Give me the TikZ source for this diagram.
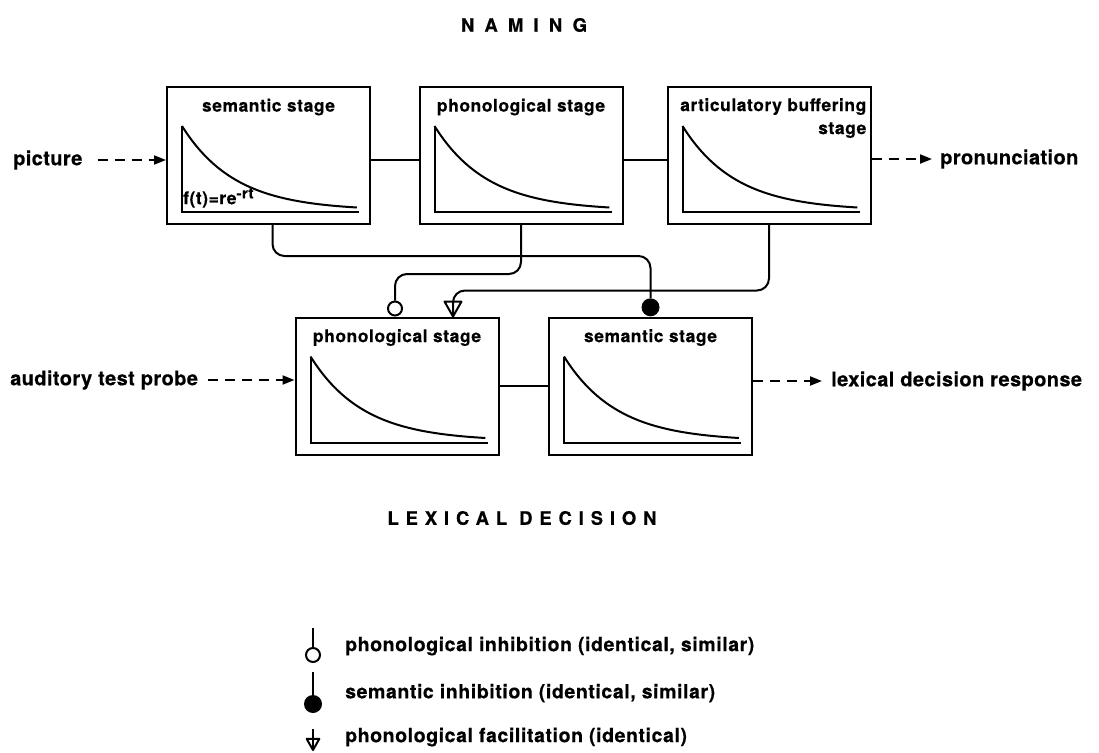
\documentclass[tikz,border=0pt]{standalone}
\usepackage{fontspec}
\setmainfont{TeX Gyre Heros}
\usetikzlibrary{arrows.meta,calc}

\tikzset{
 facil/.pic={\draw[line width=2pt,line join=round] (0,0) -- (-8.5,-15) -- (8.5,-15) -- cycle;}
}

\begin{document}
\begin{tikzpicture}[x=1pt,y=-1pt,
 stage/.style={draw,line width=2pt,minimum width=203pt,minimum height=137pt,inner sep=0pt},
 stagename/.style={font=\bfseries\fontsize{17.5}{23}\selectfont\addfontfeature{LetterSpace=3,FakeBold=0.4},inner sep=0pt},
 io/.style={font=\bfseries\fontsize{20}{24}\selectfont\addfontfeature{LetterSpace=2,FakeBold=0.4},inner sep=0pt,anchor=west},
 key/.style={font=\bfseries\fontsize{19.5}{23}\selectfont\addfontfeature{LetterSpace=3,FakeBold=0.4},inner sep=0pt,anchor=west},
 heading/.style={font=\bfseries\fontsize{18.5}{22}\selectfont\addfontfeature{FakeBold=0.4},inner sep=0pt},
 link/.style={line width=2pt,rounded corners=12pt},
 feed/.style={line width=2pt,dash pattern=on 10pt off 7pt,-{Triangle[length=12pt,width=9pt]}},
 odot/.style={circle,draw,line width=2pt,fill=white,minimum size=14pt,inner sep=0pt},
 fdot/.style={circle,fill,minimum size=18pt,inner sep=0pt}]

 \useasboundingbox (0,0) rectangle (1099,752);

 \node[heading] (naming) at (524,25) {\addfontfeature{LetterSpace=55}NAMING};
 \node[heading] (lexdec) at (522,518) {\addfontfeature{LetterSpace=37}LEXICAL DECISION};

 \node[stage] (semN) at (268.5,155.5) {};
 \node[stage] (phonN) at (521,155.5) {};
 \node[stage] (artN) at (769,155.5) {};
 \node[stage] (phonL) at (397,386) {};
 \node[stage] (semL) at (650.5,386) {};

 \foreach \b in {semN,phonN,artN,phonL,semL} {
   \coordinate (\b-o) at ($(\b.north west)+(16,40)$);
   \draw[line width=2pt] (\b-o) |- ($(\b.south east)+(-12,-13)$);
   \draw[line width=2pt,shift={(\b-o)}]
   plot[domain=0:1,samples=60,smooth] ({175*\x},{81.5*(1-exp(-3.3*\x))/(1-exp(-3.3))});
 }

 \foreach \b/\t in {semN/semantic stage,phonN/phonological stage,
   phonL/phonological stage,semL/semantic stage}
   \node[stagename] (\b-name) at ($(\b.north)+(0,21)$) {\t};
 \node[stagename,align=right,anchor=east] (artN-name) at ($(artN.north east)+(-5,32)$)
   {articulatory buffering\\stage};
 \node[stagename,anchor=west] (rate) at ($(semN-o)+(1,72)$)
   {f(t)=re\raisebox{0.33em}{\fontsize{15}{15}\selectfont -rt}};

 \draw[link] ([yshift=-4.5pt]semN.east) -- ([yshift=-4.5pt]phonN.west);
 \draw[link] ([yshift=-4.5pt]phonN.east) -- ([yshift=-4.5pt]artN.west);
 \draw[link] (phonL.east) -- (semL.west);

 \node[odot,anchor=south] (inhP) at ([xshift=-2pt]phonL.north) {};
 \node[fdot,anchor=south] (inhS) at (semL.north) {};
 \coordinate (facP) at ([xshift=56pt]phonL.north);
 \draw[link] ([xshift=4pt]semN.south) -- ++(0,31) -| (inhS.north);
 \draw[link] (phonN.south) -- ++(0,49) -| (inhP.north);
 \draw[link] (artN.south) -- ++(0,65.5) -| (facP);
 \pic at (facP) {facil};

 \node[io] (picture) at (13,160) {picture};
 \draw[feed] ([xshift=15pt]picture.east) -- (picture.east -| semN.west);
 \node[io] (pron) at (940,159) {pronunciation};
 \draw[feed] (pron.west -| artN.east) -- ([xshift=-8pt]pron.west);
 \node[io] (probe) at (10,380) {auditory test probe};
 \draw[feed] ([xshift=10pt]probe.east) -- (probe.east -| phonL.west);
 \node[io] (resp) at (831,381) {lexical decision response};
 \draw[feed] (resp.west -| semL.east) -- ([xshift=-9pt]resp.west);

 \node[odot] (keyP) at (313,655) {};
 \node[fdot] (keyS) at (313,704) {};
 \coordinate (keyF) at (313,750);
 \coordinate (keyP-top) at (313,628);
 \coordinate (keyS-top) at (313,672);
 \coordinate (keyF-top) at (313,729);
 \foreach \k in {keyP,keyS,keyF}
   \draw[link] (\k-top) -- (\k);
 \pic[scale=0.75] at (keyF) {facil};
 \node[key] (keyPt) at (345,646) {phonological inhibition (identical, similar)};
 \node[key] (keySt) at (345,693) {semantic inhibition (identical, similar)};
 \node[key] (keyFt) at (345,737) {phonological facilitation (identical)};
\end{tikzpicture}
\end{document}
